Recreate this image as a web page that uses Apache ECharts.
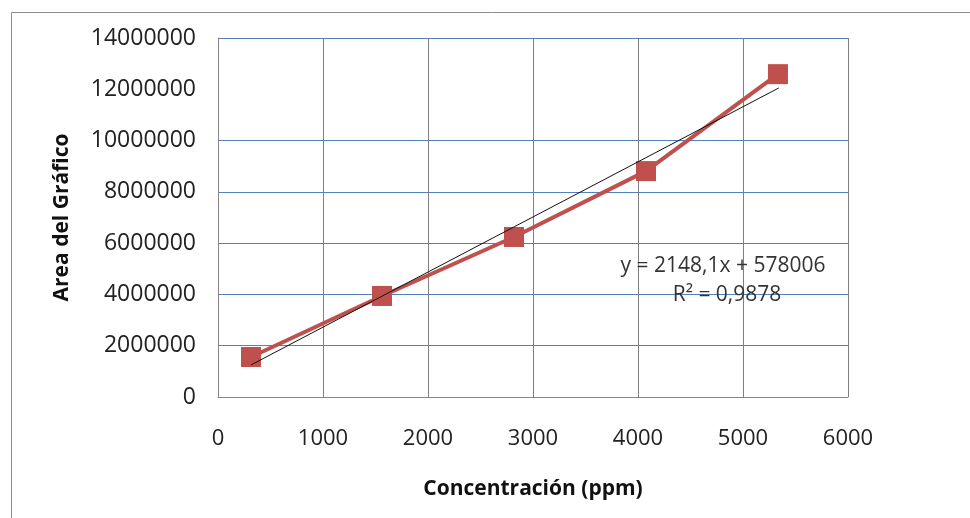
<!DOCTYPE html>
<html><head><meta charset="utf-8">
<script src="https://cdn.jsdelivr.net/npm/echarts@6/dist/echarts.min.js"></script>
<style>html,body{margin:0;padding:0;background:#fff}#c{width:970px;height:518px}</style>
</head><body><div id="c"></div>
<script>
var concentracion = [314, 1562, 2819, 4076, 5333];
var area = [1560000, 3940000, 6240000, 8810000, 12590000];
var trendX = [314, 5340];
var trendY = [1250000, 12050000];
var xTicks = [0, 1000, 2000, 3000, 4000, 5000, 6000];
var yTicks = [0, 2000000, 4000000, 6000000, 8000000, 10000000, 12000000, 14000000];
var eqText = 'y = 2148,1x + 578006';
var r2Text = 'R² = 0,9878';
var xName = 'Concentración (ppm)';
var yName = 'Area del Gráfico';

var chart = echarts.init(document.getElementById('c'), null, {renderer: 'canvas'});
var font = 'Open Sans';
var hColors = yTicks.map(function (v) { return v === 12000000 ? 'rgba(0,0,0,0)' : '#4f81bd'; });
chart.setOption({
  animation: false,
  backgroundColor: '#fff',
  grid: {left: 218, top: 38, right: 122, bottom: 121, containLabel: false},
  xAxis: {
    type: 'value', min: 0, max: 6000, interval: 1000,
    name: xName, nameLocation: 'middle', nameGap: 82,
    nameTextStyle: {fontFamily: font, fontWeight: 'bold', fontSize: 21, color: '#111'},
    axisLine: {show: true, lineStyle: {color: '#868686', width: 1}},
    axisTick: {show: false},
    axisLabel: {fontFamily: font, fontSize: 22, color: '#222', margin: 31,
      formatter: function (v) { return xTicks.indexOf(v) >= 0 ? String(v) : ''; }},
    splitLine: {show: true, lineStyle: {color: '#7f7f7f', width: 1}}
  },
  yAxis: {
    type: 'value', min: 0, max: 14000000, interval: 2000000,
    name: yName, nameLocation: 'middle', nameGap: 145, nameRotate: 90,
    nameTextStyle: {fontFamily: font, fontWeight: 'bold', fontSize: 21, color: '#111'},
    axisLine: {show: true, lineStyle: {color: '#868686', width: 1}},
    axisTick: {show: false},
    axisLabel: {fontFamily: font, fontSize: 23, color: '#222', margin: 22,
      formatter: function (v) { return yTicks.indexOf(v) >= 0 ? String(v) : ''; }},
    splitLine: {show: true, lineStyle: {color: hColors, width: 1}}
  },
  series: [
    {
      type: 'line',
      data: concentracion.map(function (x, i) { return [x, area[i]]; }),
      lineStyle: {color: '#c0504d', width: 4},
      itemStyle: {color: '#c0504d'},
      symbol: 'rect', symbolSize: 20, showSymbol: true,
      z: 3
    },
    {
      type: 'line',
      data: trendX.map(function (x, i) { return [x, trendY[i]]; }),
      lineStyle: {color: '#111', width: 1},
      symbol: 'none',
      z: 4
    }
  ],
  graphic: [
    {type: 'rect', shape: {x: 11.5, y: 12.5, width: 1000, height: 520},
      style: {fill: 'none', stroke: '#8c8c8c', lineWidth: 1}, z: -1},
    {type: 'text', x: 723, y: 266, style: {text: eqText, font: '21px "Open Sans"', fill: '#333', align: 'center', verticalAlign: 'middle'}, z: 10},
    {type: 'text', x: 727, y: 295, style: {text: r2Text, font: '21px "Open Sans"', fill: '#333', align: 'center', verticalAlign: 'middle'}, z: 10}
  ]
});
</script></body></html>
